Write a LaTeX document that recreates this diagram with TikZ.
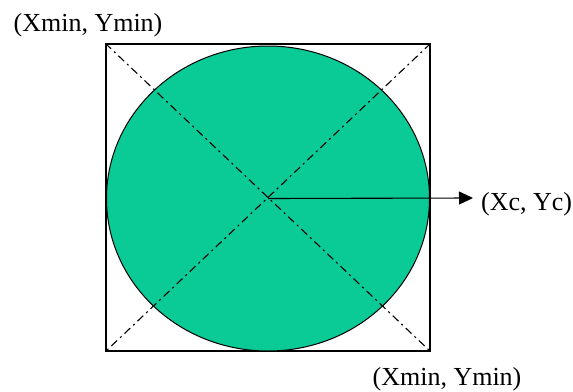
\documentclass[tikz,border=0pt]{standalone}
\usepackage{fontspec}
\setmainfont{Liberation Serif}
\usetikzlibrary{shapes.geometric,arrows.meta}
\definecolor{discgreen}{RGB}{10,202,150}
\begin{document}
\begin{tikzpicture}[
    x=1pt, y=-1pt,
    frame/.style={rectangle, draw, line width=1.4pt, minimum width=324pt, minimum height=307pt, inner sep=0pt},
    disc/.style={ellipse, draw, line width=1pt, fill=discgreen, minimum width=323pt, minimum height=305pt, inner sep=0pt},
    diag/.style={line width=1.1pt, dash pattern=on 8pt off 4pt on 2pt off 4pt},
    arrow/.style={-{Triangle[length=14pt,width=13pt]}, line width=1.1pt},
    label/.style={font=\fontsize{26}{30}\selectfont, inner sep=0pt, anchor=base}
]
    \useasboundingbox (0,0) rectangle (573,391);
    % Box and disc
    \node[frame] (box) at (268,197.5) {};
    \node[disc] (disc) at (268,198.5) {};
    \draw[line width=1.4pt] (box.north west) rectangle (box.south east);
    % Diagonals
    \draw[diag] (box.north west) -- (box.south east);
    \draw[diag] (box.north east) -- (box.south west);
    % Centre arrow
    \coordinate (tip) at (473,198);
    \draw[arrow] (disc.center) -- (tip);
    % Labels
    \node[label] (topleft) at (88,31) {(Xmin, Ymin)};
    \node[label] (bottomright) at (447,385) {(Xmin, Ymin)};
    \node[label, anchor=base west] (centre) at (481,210) {(Xc, Yc)};
\end{tikzpicture}
\end{document}
